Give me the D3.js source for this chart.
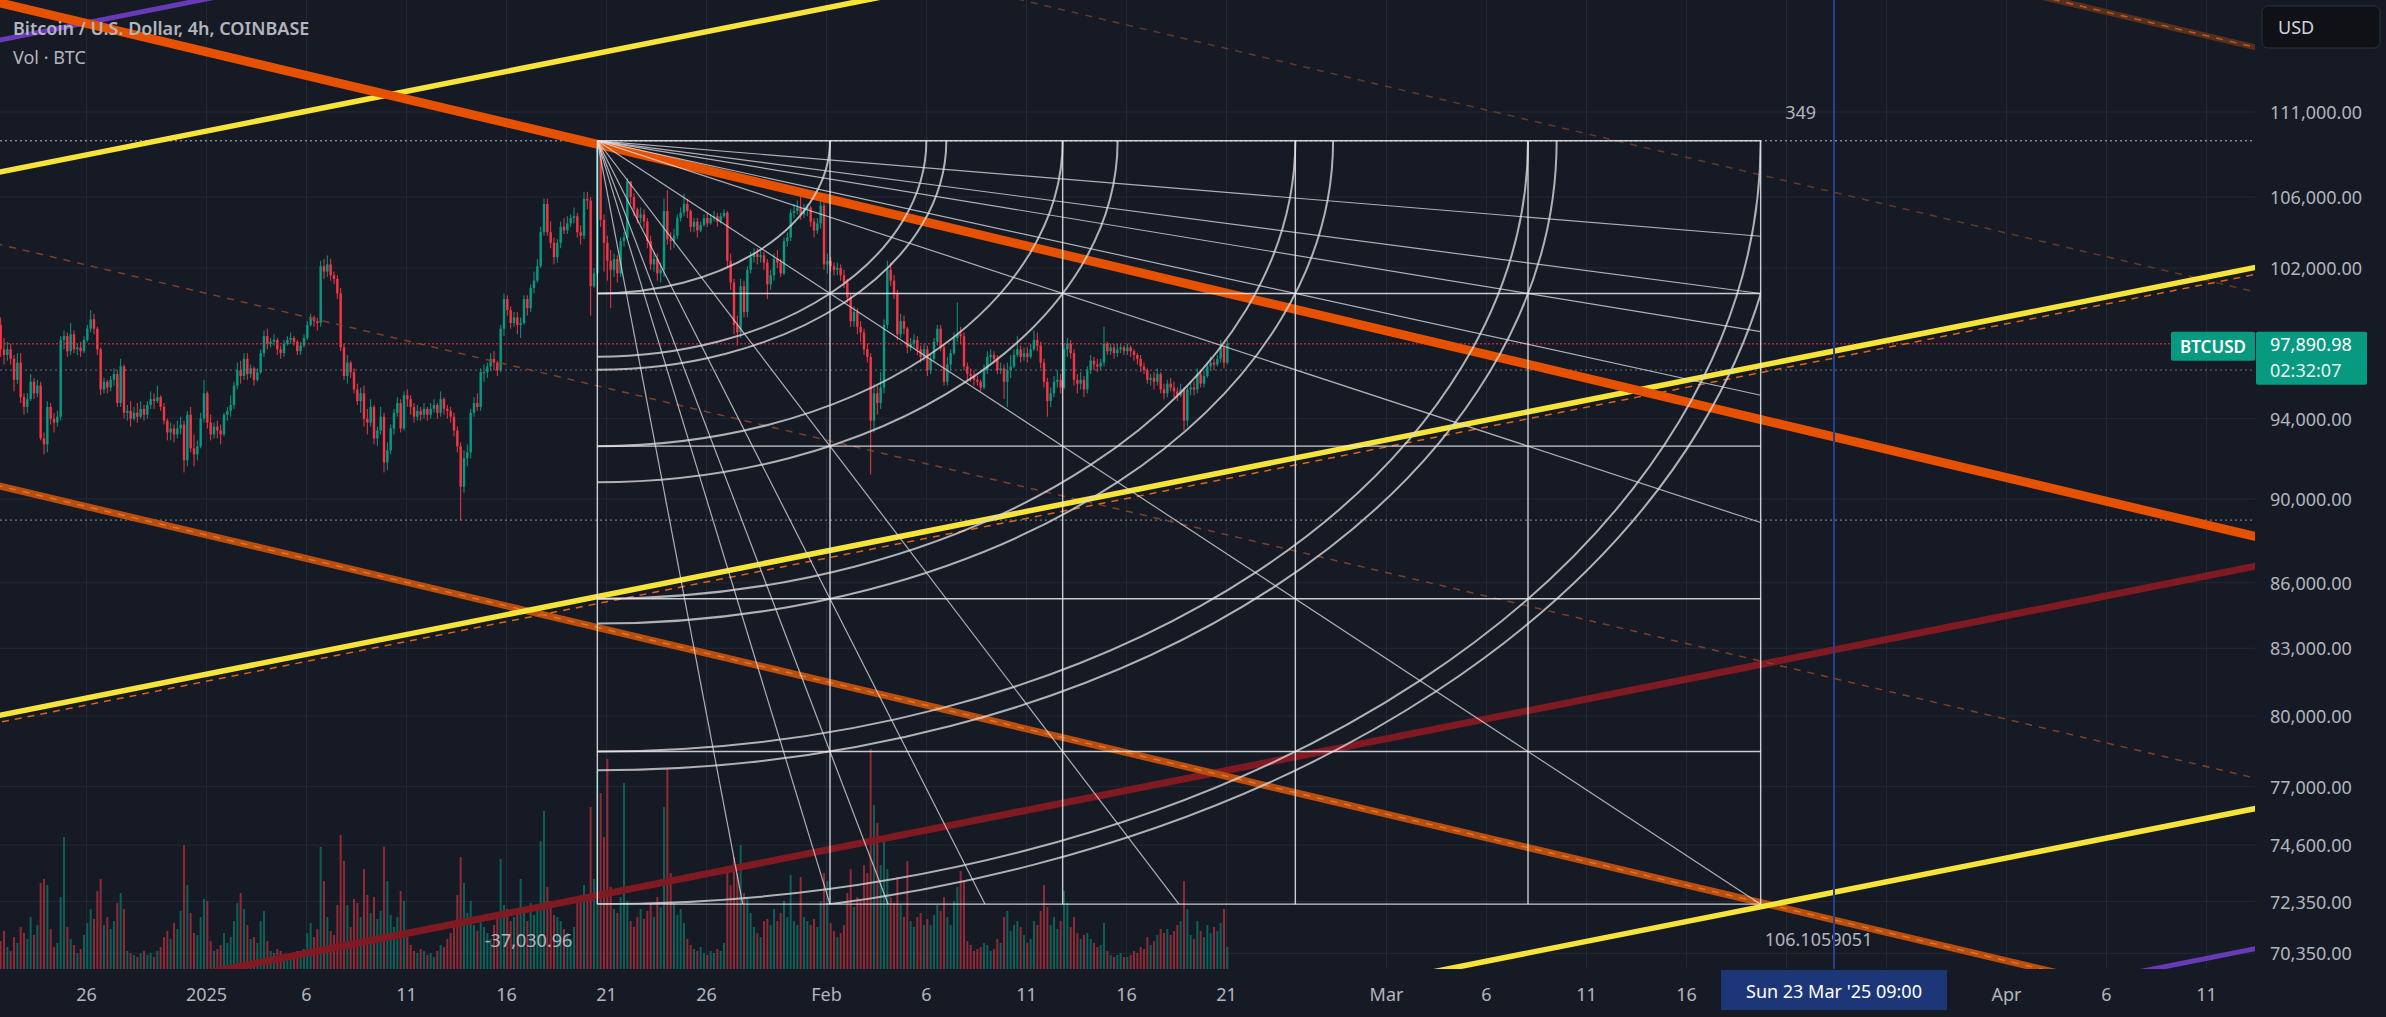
<!DOCTYPE html>
<html>
<head>
<meta charset="utf-8">
<script src="https://cdn.jsdelivr.net/npm/d3@7"></script>
<style>
  html, body { margin: 0; padding: 0; background: #161a25; overflow: hidden; }
  svg { display: block; }
  text { font-family: "Noto Sans", "Open Sans", sans-serif; }
</style>
</head>
<body>
<div id="container"></div>
<script>
// ---- data (prices in thousand USD, 4h bars, first bar 21 Dec 2024 17:00) ----
var firstBar = Date.UTC(2024, 11, 21, 17);
var barHours = 4;
var firstOpen = 98.9;

var closes = [
  97.6, 97.3,
  97.6, 97.1, 96.0, 96.9, 95.1, 94.6,
  95.0, 95.9, 95.3, 95.7, 93.0, 92.7,
  94.6, 94.0, 93.8, 94.1, 98.1, 98.3,
  97.5, 98.4, 97.6, 97.7, 97.5, 98.1,
  98.7, 99.2, 98.7, 97.6, 95.5, 95.9,
  95.6, 96.0, 96.3, 94.8, 96.7, 94.3,
  94.4, 94.0, 94.3, 94.1, 94.5, 94.2,
  94.7, 95.0, 94.9, 95.1, 94.6, 93.9,
  93.3, 93.5, 93.2, 93.5, 93.7, 91.9,
  94.2, 92.5, 92.2, 92.6, 94.0, 95.3,
  93.8, 93.2, 93.6, 93.4, 93.2, 94.2,
  94.4, 94.7, 95.7, 96.5, 96.2, 97.1,
  96.3, 96.6, 96.0, 96.4, 97.4, 98.3,
  97.9, 98.0, 98.1, 97.6, 97.4, 97.9,
  98.1, 98.2, 98.0, 97.5, 97.8, 98.2,
  98.9, 99.3, 99.1, 99.0, 102.1, 101.8,
  102.2, 101.6, 101.4, 100.6, 97.7, 96.2,
  96.9, 96.4, 95.5, 94.9, 95.3, 94.0,
  93.8, 94.6, 93.0, 93.4, 94.1, 91.8,
  92.4, 93.5, 94.3, 94.8, 93.5, 95.2,
  95.0, 94.6, 94.1, 94.4, 94.2, 94.5,
  94.2, 94.5, 94.7, 94.3, 95.0, 94.5,
  94.4, 94.1, 93.4, 92.6, 90.6, 92.0,
  92.3, 94.3, 94.8, 94.6, 96.4, 96.4,
  96.7, 97.1, 96.9, 96.5, 98.7, 100.3,
  99.7, 99.0, 99.3, 98.9, 99.0, 100.3,
  99.8, 100.9, 101.3, 102.1, 104.0, 105.6,
  104.0, 103.4, 102.6, 103.4, 104.3, 104.1,
  104.5, 104.8, 104.9, 104.0, 103.8, 105.9,
  105.8, 101.0, 101.7, 108.9, 104.7, 103.4,
  102.4, 101.9, 102.5, 101.7, 103.5, 103.7,
  106.9, 106.0, 105.3, 104.8, 105.0, 104.6,
  103.5, 102.2, 102.5, 101.7, 101.9, 105.2,
  103.6, 103.5, 103.8, 104.8, 105.1, 105.6,
  105.2, 104.3, 104.6, 104.1, 104.4, 104.8,
  104.5, 104.8, 104.9, 104.6, 104.9, 105.1,
  102.4, 101.2, 98.9, 98.5, 101.0, 99.6,
  101.9, 102.6, 102.8, 102.6, 102.7, 102.3,
  101.1, 101.6, 102.5, 102.3, 101.7, 103.5,
  103.7, 105.1, 105.2, 105.4, 105.0, 105.3,
  105.4, 104.6, 104.1, 104.5, 105.5, 102.2,
  102.4, 102.1, 101.9, 102.0, 101.6, 101.2,
  100.4, 99.1, 99.6, 98.8, 98.5, 97.6,
  97.2, 93.9, 95.3, 94.8, 95.6, 98.9,
  101.9, 101.3, 100.6, 98.4, 99.1, 98.7,
  97.7, 97.9, 98.1, 97.6, 97.2, 97.6,
  96.5, 97.1, 98.0, 98.7, 97.7, 95.9,
  96.8, 97.4, 98.2, 98.4, 98.3, 96.7,
  96.3, 96.2, 96.0, 95.9, 95.6, 96.5,
  97.2, 97.3, 97.1, 96.5, 96.6, 95.9,
  96.5, 96.7, 97.3, 97.6, 97.2, 97.4,
  97.2, 97.6, 98.1, 97.8, 96.9, 95.9,
  94.9, 95.3, 95.9, 96.0, 95.6, 97.6,
  97.9, 97.4, 96.0, 95.8, 96.0, 95.5,
  96.5, 97.0, 96.8, 96.7, 96.9, 97.9,
  97.5, 97.7, 97.4, 97.6, 97.7, 97.5,
  97.7, 97.5, 97.3, 97.1, 96.7, 96.5,
  96.0, 96.1, 95.9, 96.3, 95.5, 95.3,
  95.8, 95.6, 95.4, 95.2, 95.5, 93.9,
  95.5, 95.6, 95.5, 96.3, 95.8, 96.2,
  96.7, 96.9, 96.8, 97.1, 97.7, 96.9,
  97.891
];

var highs = [
  99.3, 98.2,
  98.0, 97.9, 97.3, 97.4, 97.4, 95.3,
  95.3, 96.3, 96.1, 96.0, 95.9, 93.3,
  94.9, 94.8, 94.3, 94.4, 98.3, 98.6,
  98.5, 99.0, 98.6, 97.9, 98.0, 98.3,
  98.9, 99.7, 99.5, 98.8, 97.7, 96.1,
  96.0, 96.2, 96.6, 96.5, 97.1, 96.8,
  94.7, 94.9, 94.6, 94.8, 94.9, 94.7,
  94.9, 95.4, 95.3, 95.7, 95.2, 94.8,
  94.0, 93.8, 93.7, 93.9, 94.1, 93.9,
  94.4, 94.6, 93.2, 92.9, 94.3, 96.0,
  95.4, 94.2, 93.8, 93.9, 93.7, 94.3,
  94.6, 95.2, 95.9, 96.9, 97.0, 97.4,
  97.4, 96.8, 96.7, 96.6, 97.6, 98.6,
  98.7, 98.2, 98.4, 98.2, 97.8, 98.1,
  98.3, 98.5, 98.3, 98.1, 98.0, 98.4,
  99.1, 99.5, 99.4, 99.3, 102.4, 102.5,
  102.7, 102.5, 101.8, 101.6, 100.9, 97.9,
  97.3, 97.0, 96.6, 95.8, 95.6, 95.7,
  94.5, 95.0, 94.7, 93.6, 94.6, 94.3,
  92.8, 93.7, 94.5, 95.1, 95.0, 95.4,
  95.5, 95.2, 94.8, 94.7, 94.6, 94.8,
  94.6, 94.8, 95.0, 94.8, 95.4, 95.1,
  94.7, 94.6, 94.3, 93.6, 92.8, 92.4,
  92.7, 94.5, 95.1, 95.3, 96.6, 96.8,
  96.9, 97.4, 97.5, 97.0, 98.9, 100.6,
  100.5, 99.9, 99.6, 99.6, 99.3, 100.5,
  100.5, 101.1, 101.8, 102.5, 104.3, 105.9,
  105.9, 104.6, 103.7, 103.6, 104.6, 104.8,
  104.9, 105.0, 105.4, 105.1, 104.4, 106.3,
  106.3, 106.0, 102.0, 109.28, 108.8, 105.0,
  103.8, 103.0, 102.8, 102.7, 103.7, 104.0,
  107.1, 106.9, 106.2, 105.4, 105.4, 105.3,
  104.8, 103.8, 102.9, 102.8, 102.3, 105.9,
  106.4, 104.0, 104.2, 105.0, 105.4, 106.2,
  105.9, 105.3, 104.8, 104.8, 104.6, 105.0,
  105.1, 105.0, 105.2, 105.1, 105.1, 105.3,
  105.2, 102.8, 101.4, 99.4, 101.4, 101.3,
  102.1, 102.9, 103.1, 103.1, 103.0, 102.9,
  102.5, 101.9, 102.8, 103.0, 102.5, 103.7,
  104.0, 105.3, 105.6, 105.8, 106.1, 105.6,
  105.6, 105.5, 104.8, 104.8, 105.9, 106.2,
  102.8, 102.6, 102.3, 102.3, 102.2, 101.9,
  101.4, 100.6, 99.9, 99.8, 99.1, 98.7,
  97.9, 97.4, 95.8, 95.7, 96.4, 99.2,
  102.4, 102.3, 101.6, 100.8, 99.5, 99.4,
  98.8, 98.2, 98.4, 98.3, 97.8, 97.9,
  97.8, 97.3, 98.2, 98.9, 98.9, 97.9,
  97.2, 97.6, 98.5, 100.1, 98.8, 98.5,
  96.9, 96.6, 96.5, 96.2, 96.0, 96.8,
  97.5, 97.6, 97.5, 97.3, 96.9, 96.8,
  96.9, 97.3, 97.6, 98.3, 97.8, 97.7,
  97.7, 97.9, 98.6, 98.5, 98.0, 97.1,
  96.1, 95.6, 96.2, 96.5, 96.3, 97.9,
  98.2, 98.1, 97.6, 96.3, 96.4, 96.2,
  96.7, 97.3, 97.2, 97.1, 97.1, 98.8,
  98.0, 97.9, 97.9, 97.9, 97.9, 97.8,
  97.9, 97.8, 97.6, 97.4, 97.3, 96.9,
  96.6, 96.3, 96.4, 96.6, 96.4, 95.8,
  96.0, 96.1, 95.9, 95.6, 95.8, 95.6,
  95.7, 95.9, 95.9, 96.6, 96.5, 96.5,
  96.9, 97.2, 97.1, 97.3, 98.1, 97.8,
  98.1
];

var lows = [
  97.2, 96.8,
  97.0, 96.8, 95.4, 95.8, 94.8, 94.2,
  94.3, 94.9, 95.0, 95.1, 92.9, 92.2,
  92.3, 93.7, 93.3, 93.6, 93.9, 97.6,
  97.2, 97.3, 97.4, 97.3, 97.2, 97.4,
  98.0, 98.5, 98.4, 97.3, 95.2, 95.3,
  95.3, 95.4, 95.7, 94.6, 94.6, 94.0,
  93.9, 93.6, 93.9, 93.8, 94.0, 93.9,
  94.0, 94.5, 94.5, 94.8, 94.4, 93.7,
  92.9, 92.9, 92.8, 93.0, 93.2, 91.3,
  91.6, 92.3, 91.6, 91.9, 92.5, 93.8,
  93.5, 92.9, 93.0, 93.0, 92.7, 93.1,
  93.9, 94.1, 94.5, 95.5, 95.8, 96.0,
  96.0, 96.1, 95.7, 95.9, 96.3, 97.2,
  97.6, 97.7, 97.8, 97.3, 97.1, 97.2,
  97.8, 97.9, 97.8, 97.3, 97.3, 97.7,
  98.1, 98.8, 98.8, 98.6, 98.8, 101.4,
  101.5, 101.3, 101.1, 100.3, 97.5, 96.0,
  95.8, 96.1, 95.3, 94.7, 94.3, 93.6,
  93.2, 93.6, 92.7, 92.6, 93.2, 91.3,
  91.4, 92.2, 93.2, 94.1, 93.3, 93.4,
  94.6, 94.2, 93.8, 93.9, 93.9, 94.0,
  93.9, 94.0, 94.3, 94.0, 94.1, 94.2,
  94.0, 93.8, 93.1, 92.3, 88.97, 90.3,
  91.6, 92.0, 94.1, 94.4, 94.4, 95.9,
  96.1, 96.5, 96.5, 96.2, 96.4, 98.3,
  99.4, 98.7, 98.8, 98.4, 98.2, 98.9,
  99.4, 99.6, 100.6, 101.2, 102.0, 103.8,
  103.8, 103.1, 102.2, 102.3, 103.1, 103.9,
  103.9, 104.3, 104.5, 103.7, 103.3, 103.6,
  105.3, 99.4, 100.9, 101.5, 104.3, 101.8,
  101.3, 99.8, 101.5, 101.2, 101.5, 103.2,
  103.6, 105.6, 104.9, 104.5, 104.5, 104.2,
  103.1, 101.9, 101.8, 101.3, 101.2, 101.5,
  103.3, 103.0, 103.1, 103.6, 104.6, 104.9,
  104.8, 104.0, 104.0, 103.7, 104.0, 104.3,
  104.3, 104.4, 104.6, 104.3, 104.5, 104.8,
  102.0, 100.8, 98.4, 97.8, 98.2, 99.3,
  99.3, 101.7, 102.3, 102.2, 102.3, 101.9,
  100.3, 100.8, 101.3, 102.0, 101.5, 101.6,
  103.2, 103.5, 104.8, 105.0, 104.7, 104.8,
  104.9, 104.3, 103.7, 103.9, 104.2, 101.9,
  101.7, 101.8, 101.6, 101.6, 101.3, 100.9,
  100.1, 98.8, 98.8, 98.4, 98.0, 97.3,
  96.9, 91.2, 93.3, 94.2, 94.5, 95.3,
  98.7, 101.0, 100.3, 98.1, 98.2, 98.4,
  97.4, 97.5, 97.7, 97.3, 96.9, 97.0,
  96.2, 96.3, 97.0, 97.8, 97.5, 95.7,
  95.7, 96.5, 97.3, 98.0, 97.9, 96.5,
  96.0, 95.9, 95.7, 95.7, 95.4, 95.5,
  96.3, 96.9, 96.9, 96.3, 96.3, 95.0,
  94.6, 96.1, 96.6, 97.2, 96.9, 97.0,
  96.9, 97.1, 97.5, 97.5, 96.6, 95.6,
  94.1, 94.6, 95.1, 95.6, 95.3, 95.5,
  97.2, 97.1, 95.7, 95.3, 95.5, 95.1,
  95.3, 96.3, 96.5, 96.4, 96.5, 96.7,
  97.3, 97.3, 97.1, 97.2, 97.4, 97.3,
  97.3, 97.2, 97.0, 96.8, 96.4, 96.3,
  95.8, 95.7, 95.5, 95.7, 95.3, 95.0,
  95.1, 95.4, 95.1, 94.9, 95.1, 93.4,
  93.6, 95.2, 95.2, 95.3, 95.6, 95.6,
  96.1, 96.5, 96.5, 96.7, 96.9, 96.6,
  96.8
];

// volume in BTC
var volumes = [
  1400, 1900,
  1100, 900, 1600, 1300, 2100, 1800,
  1500, 2600, 1700, 2200, 4300, 4500,
  4200, 2000, 1100, 1300, 3600, 6600,
  2100, 1500, 1200, 800, 1000, 1700,
  2300, 3000, 2500, 3900, 4500, 2200,
  2600, 2000, 2400, 3300, 3800, 3000,
  900, 800, 700, 600, 800, 900,
  700, 800, 600, 900, 1100, 1600,
  1900, 1500, 2300, 2000, 2900, 6200,
  4200, 2800, 1800, 1700, 2600, 3500,
  3400, 1400, 900, 1000, 1200, 1800,
  1300, 1600, 2400, 3300, 3800, 3000,
  2200, 1500, 1600, 1300, 2400, 2900,
  1400, 900, 800, 1000, 900, 700,
  600, 700, 800, 900, 700, 1000,
  1800, 2300, 1600, 2000, 6100, 4400,
  2600, 1900, 1700, 3200, 6700, 5400,
  3200, 2100, 3500, 3300, 2600, 5000,
  3700, 2800, 3600, 2500, 2900, 6100,
  4400, 2700, 2100, 2600, 3900, 3400,
  1600, 1200, 900, 800, 1000, 900,
  700, 800, 600, 900, 1200, 1100,
  1500, 1800, 2400, 3700, 5600, 4300,
  2800, 3400, 2200, 1900, 2500, 2100,
  1800, 1500, 2200, 2600, 5500, 3200,
  3000, 2400, 2600, 2800, 4500, 2900,
  2400, 3300, 2700, 3100, 6400, 7900,
  4100, 3400, 2700, 2600, 2400, 2000,
  1800, 1500, 2100, 3300, 3600, 4200,
  3500, 8100, 4500, 9900, 8800, 6600,
  10500, 4100, 3000, 2800, 3600, 9300,
  3400, 2400, 2100, 2600, 3000, 2500,
  2900, 3300, 2600, 3600, 3100, 8100,
  10000, 4800, 3300, 2700, 3000, 2300,
  1500, 1200, 1000, 900, 1100, 800,
  700, 900, 800, 1000, 900, 1300,
  5000, 4200, 5600, 4800, 6200, 3800,
  3600, 2800, 2100, 1800, 1600, 2400,
  2500, 2200, 3000, 2400, 2800, 3400,
  2600, 4700, 2400, 2200, 4600, 2600,
  2400, 2200, 2500, 2100, 3400, 4800,
  4400, 2300, 1900, 1600, 1800, 2200,
  3800, 5000, 3100, 3600, 3400, 5200,
  4800, 11000, 8200, 7300, 5200, 6400,
  5000, 3600, 3300, 4600, 3200, 2600,
  5400, 2400, 2100, 2600, 2800, 2200,
  2500, 2200, 2700, 3200, 2900, 3600,
  2600, 2200, 3400, 4100, 4900, 4400,
  1400, 1200, 900, 1000, 1100, 1300,
  1200, 900, 1000, 1500, 1300, 2600,
  2900, 1900, 2200, 2400, 2100, 1700,
  1300, 1500, 2400, 2200, 2900, 4200,
  3100, 2200, 2600, 2000, 2400, 3900,
  3300, 2100, 2600, 1800, 1500, 1700,
  1800, 1500, 1300, 1100, 1200, 2300,
  900, 700, 600, 700, 800, 600,
  600, 700, 900, 800, 1100, 1000,
  1600, 1200, 1400, 1700, 2000, 1800,
  2000, 1700, 1900, 2200, 2400, 4400,
  3000, 1700, 1500, 2400, 1900, 1600,
  2200, 1800, 2100, 1900, 2300, 3000,
  1100
];

var priceTicks = [111000, 106000, 102000, 94000, 90000, 86000, 83000, 80000, 77000, 74600, 72350, 70350];
var timeTickDates = ["2024-12-26", "2025-01-01", "2025-01-06", "2025-01-11", "2025-01-16", "2025-01-21",
  "2025-01-26", "2025-02-01", "2025-02-06", "2025-02-11", "2025-02-16", "2025-02-21", "2025-03-01",
  "2025-03-06", "2025-03-11", "2025-03-16", "2025-03-21", "2025-03-26", "2025-04-01", "2025-04-06", "2025-04-11"];
var timeTickLabels = ["26", "2025", "6", "11", "16", "21", "26", "Feb", "6", "11", "16", "21", "Mar",
  "6", "11", "16", "21", "26", "Apr", "6", "11"];

// drawing anchors: price at 11 Dec 2024 and at 11 Apr 2025
var lineDates = ["2024-12-11", "2025-04-11"];
var orangeChannel = [[157783, 115683], [138187, 101318], [121029, 88737], [106173, 77844], [93140, 68291]];
var yellowChannel = [[105005, 136254], [78222, 101499], [58333, 75693]];
var yellowGuide = [77925, 101114];
var purpleLines = [[112797, 146366], [54068, 70156]];
var redLine = [66522, 86320];

// gann square
var gannStart = Date.UTC(2025, 0, 20, 13);
var gannBars = 349;
var gannTop = 109280;
var gannRange = 37030.96;
var gannGrid = [0, 0.2, 0.4, 0.6, 0.8, 1];
var gannArcs = [1, 1.4142, 1.5, 2, 2.2361, 3, 3.1623, 4, 4.1231, 5, 5.099];
var gannFans = [[0.125, 1], [0.2, 1], [0.25, 1], [0.3333, 1], [0.5, 1], [1, 1], [1, 0.5], [1, 0.3333], [1, 0.25], [1, 0.2], [1, 0.125]];

var lastPrice = 97890.98;
var highLine = 109280, midLine = 96510, lowLine = 88970;
var crossTime = Date.UTC(2025, 2, 23, 9);

// ---- layout ----
var W = 2386, H = 1017;
var plotW = 2255, plotH = 969;

var svg = d3.select("#container").append("svg")
  .attr("width", W).attr("height", H);

svg.append("rect").attr("width", W).attr("height", H).attr("fill", "#161a25");

var x = d3.scaleUtc()
  .domain([new Date(Date.UTC(2025, 0, 1)), new Date(Date.UTC(2025, 3, 11))])
  .range([206.5, 2206.5]);
var y = d3.scaleLog().domain([70350, 111000]).range([953.3, 112]);
var yVol = d3.scaleLinear().domain([0, 10000]).range([plotH, plotH - 200]);

svg.append("defs").append("clipPath").attr("id", "plot")
  .append("rect").attr("width", plotW).attr("height", plotH);

var plot = svg.append("g").attr("clip-path", "url(#plot)");

// grid
var tickDates = timeTickDates.map(function(d) { return new Date(d + "T00:00:00Z"); });
plot.append("g").selectAll("line").data(tickDates).enter().append("line")
  .attr("x1", function(d) { return x(d); }).attr("x2", function(d) { return x(d); })
  .attr("y1", 0).attr("y2", plotH)
  .attr("stroke", "#242834").attr("stroke-width", 1);
plot.append("g").selectAll("line").data(priceTicks).enter().append("line")
  .attr("x1", 0).attr("x2", plotW)
  .attr("y1", function(d) { return y(d); }).attr("y2", function(d) { return y(d); })
  .attr("stroke", "#242834").attr("stroke-width", 1);

// bars
var bars = closes.map(function(c, i) {
  var o = i === 0 ? firstOpen : closes[i - 1];
  return {
    t: new Date(firstBar + i * barHours * 3600e3),
    o: o * 1000, c: c * 1000,
    h: Math.max(highs[i], o, c) * 1000,
    l: Math.min(lows[i], o, c) * 1000,
    v: volumes[i]
  };
});

// volume
plot.append("g").selectAll("rect").data(bars).enter().append("rect")
  .attr("x", function(d) { return x(d.t) - 1; })
  .attr("width", 2)
  .attr("y", function(d) { return yVol(d.v); })
  .attr("height", function(d) { return plotH - yVol(d.v); })
  .attr("fill", function(d) { return d.c >= d.o ? "rgba(8,153,129,0.55)" : "rgba(242,54,69,0.55)"; });

// candles
var candle = plot.append("g").selectAll("g").data(bars).enter().append("g");
candle.append("line")
  .attr("x1", function(d) { return x(d.t); }).attr("x2", function(d) { return x(d.t); })
  .attr("y1", function(d) { return y(d.h); }).attr("y2", function(d) { return y(d.l); })
  .attr("stroke", function(d) { return d.c >= d.o ? "#089981" : "#f23645"; })
  .attr("stroke-width", 1);
candle.append("rect")
  .attr("x", function(d) { return x(d.t) - 1.2; })
  .attr("width", 2.4)
  .attr("y", function(d) { return y(Math.max(d.o, d.c)); })
  .attr("height", function(d) { return Math.max(1, Math.abs(y(d.o) - y(d.c))); })
  .attr("fill", function(d) { return d.c >= d.o ? "#089981" : "#f23645"; });

// horizontal price lines
function hline(p, color, dash, w) {
  plot.append("line").attr("x1", 0).attr("x2", plotW)
    .attr("y1", y(p)).attr("y2", y(p))
    .attr("stroke", color).attr("stroke-width", w || 1)
    .attr("stroke-dasharray", dash);
}
hline(highLine, "#b8bcc6", "2,3");
hline(midLine, "#6a6e7a", "2,3");
hline(lowLine, "#8a8e9a", "2,3");
hline(lastPrice, "#f23645", "2,2");

// trend lines (extended across the pane)
var d0 = new Date(lineDates[0] + "T00:00:00Z"), d1 = new Date(lineDates[1] + "T00:00:00Z");
function trend(p, color, width, dash, opacity) {
  var x0 = x(d0), y0 = y(p[0]), x1 = x(d1), y1 = y(p[1]);
  var k = (y1 - y0) / (x1 - x0);
  var xa = -100, xb = plotW + 100;
  plot.append("line")
    .attr("x1", xa).attr("y1", y0 + k * (xa - x0))
    .attr("x2", xb).attr("y2", y0 + k * (xb - x0))
    .attr("stroke", color).attr("stroke-width", width)
    .attr("stroke-dasharray", dash || null)
    .attr("stroke-opacity", opacity == null ? 1 : opacity);
}
trend(purpleLines[0], "#673ab7", 5);
trend(purpleLines[1], "#673ab7", 5);
trend(redLine, "#7f1a23", 7);
trend(orangeChannel[0], "#55301f", 6);
trend(orangeChannel[0], "#c8561a", 1.5, "7,7");
trend(orangeChannel[1], "#8a4524", 1.5, "7,7", 0.7);
trend(orangeChannel[3], "#8a4524", 1.5, "7,7", 0.9);
trend(orangeChannel[4], "#b84f10", 7);
trend(orangeChannel[4], "#e8731c", 1.5, "7,7");
trend(yellowChannel[0], "#f7e43a", 5.5);
trend(yellowChannel[1], "#f7e43a", 5.5);
trend(yellowGuide, "#d9641a", 1.5, "7,6");
trend(yellowChannel[2], "#f7e43a", 5.5);
trend(orangeChannel[2], "#e65100", 9);

// gann square
var gx0 = x(new Date(gannStart)),
    gx1 = x(new Date(gannStart + gannBars * barHours * 3600e3)),
    gy0 = y(gannTop),
    gy1 = y(gannTop - gannRange);
var gw = gx1 - gx0, gh = gy1 - gy0;

svg.select("defs").append("clipPath").attr("id", "gann")
  .append("rect").attr("x", gx0).attr("y", gy0).attr("width", gw).attr("height", gh);
var gann = svg.append("g").attr("clip-path", "url(#gann)");

gann.selectAll(".arc").data(gannArcs).enter().append("path")
  .attr("d", function(r) {
    var rx = r * gw / 5, ry = r * gh / 5;
    return "M" + gx0 + "," + (gy0 + ry) + " A" + rx + "," + ry + " 0 0 0 " + (gx0 + rx) + "," + gy0;
  })
  .attr("fill", "none").attr("stroke", "rgba(215,215,218,0.8)").attr("stroke-width", 2);

gann.selectAll(".fan").data(gannFans).enter().append("line")
  .attr("x1", gx0).attr("y1", gy0)
  .attr("x2", function(d) { return gx0 + d[0] * gw; })
  .attr("y2", function(d) { return gy0 + d[1] * gh; })
  .attr("stroke", "rgba(225,225,228,0.75)").attr("stroke-width", 1.2);

var gridG = svg.append("g");
gridG.selectAll(".gv").data(gannGrid).enter().append("line")
  .attr("x1", function(f) { return gx0 + f * gw; }).attr("x2", function(f) { return gx0 + f * gw; })
  .attr("y1", gy0).attr("y2", gy1)
  .attr("stroke", "rgba(235,235,238,0.85)").attr("stroke-width", 1.4);
gridG.selectAll(".gh").data(gannGrid).enter().append("line")
  .attr("y1", function(f) { return gy0 + f * gh; }).attr("y2", function(f) { return gy0 + f * gh; })
  .attr("x1", gx0).attr("x2", gx1)
  .attr("stroke", "rgba(235,235,238,0.85)").attr("stroke-width", 1.4);

var labelColor = "#b2b5be";
svg.append("text").attr("x", gx1 + 40).attr("y", gy0 - 29)
  .attr("text-anchor", "middle").attr("dominant-baseline", "central")
  .attr("font-size", 18).attr("fill", labelColor).text("349");
svg.append("text").attr("x", gx0 - 25).attr("y", gy1 + 36)
  .attr("text-anchor", "end").attr("dominant-baseline", "central")
  .attr("font-size", 18).attr("fill", labelColor).text("-37,030.96");
svg.append("text").attr("x", gx1 + 4).attr("y", gy1 + 35)
  .attr("text-anchor", "start").attr("dominant-baseline", "central")
  .attr("font-size", 18).attr("fill", labelColor).text("106.1059051");

// crosshair
var cx = x(new Date(crossTime));
svg.append("line")
  .attr("x1", cx).attr("x2", cx)
  .attr("y1", 0).attr("y2", plotH)
  .attr("stroke", "#26428f").attr("stroke-width", 2);

// price axis
var fmt = d3.format(",.2f");
svg.append("g").selectAll("text").data(priceTicks).enter().append("text")
  .attr("x", 2270).attr("y", function(d) { return y(d); })
  .attr("dominant-baseline", "central")
  .attr("font-size", 18).attr("fill", labelColor)
  .text(function(d) { return fmt(d); });

// last price label
var ly = y(lastPrice);
svg.append("rect").attr("x", 2171).attr("y", ly - 12).attr("width", 84).attr("height", 29)
  .attr("rx", 2).attr("fill", "#089981");
svg.append("text").attr("x", 2213).attr("y", ly + 2.5)
  .attr("text-anchor", "middle").attr("dominant-baseline", "central")
  .attr("font-size", 17).attr("font-weight", 600).attr("fill", "#ffffff").text("BTCUSD");
svg.append("rect").attr("x", 2256).attr("y", ly - 12).attr("width", 111).attr("height", 53)
  .attr("rx", 2).attr("fill", "#089981");
svg.append("text").attr("x", 2270).attr("y", ly)
  .attr("dominant-baseline", "central")
  .attr("font-size", 18).attr("fill", "#ffffff").text(fmt(lastPrice));
svg.append("text").attr("x", 2270).attr("y", ly + 26)
  .attr("dominant-baseline", "central")
  .attr("font-size", 18).attr("fill", "#e6f4f1").text("02:32:07");

// currency button
svg.append("rect").attr("x", 2262).attr("y", 6).attr("width", 118).attr("height", 42)
  .attr("rx", 6).attr("fill", "#0f1116").attr("stroke", "#2c303b");
svg.append("text").attr("x", 2278).attr("y", 27)
  .attr("dominant-baseline", "central")
  .attr("font-size", 18).attr("fill", "#d1d4dc").text("USD");

// time axis (labels under the crosshair label are hidden, as on the chart)
var boxHalf = 113;
var shownTicks = tickDates.map(function(d, i) { return { d: d, label: timeTickLabels[i] }; })
  .filter(function(t) { return Math.abs(x(t.d) - cx) > boxHalf + 12; });
svg.append("g").selectAll("text").data(shownTicks).enter().append("text")
  .attr("x", function(t) { return x(t.d); }).attr("y", 994)
  .attr("text-anchor", "middle").attr("dominant-baseline", "central")
  .attr("font-size", 18).attr("fill", labelColor)
  .text(function(t) { return t.label; });

svg.append("rect").attr("x", cx - boxHalf).attr("y", 970).attr("width", boxHalf * 2).attr("height", 40)
  .attr("fill", "#1d3677");
svg.append("text").attr("x", cx).attr("y", 991)
  .attr("text-anchor", "middle").attr("dominant-baseline", "central")
  .attr("font-size", 18).attr("fill", "#ffffff").text("Sun 23 Mar '25   09:00");

// legend
svg.append("text").attr("x", 13).attr("y", 28).attr("dominant-baseline", "central")
  .attr("font-size", 18).attr("font-weight", 600).attr("fill", labelColor)
  .text("Bitcoin / U.S. Dollar, 4h, COINBASE");
svg.append("text").attr("x", 13).attr("y", 57).attr("dominant-baseline", "central")
  .attr("font-size", 18).attr("fill", labelColor)
  .text("Vol · BTC");
</script>
</body>
</html>
